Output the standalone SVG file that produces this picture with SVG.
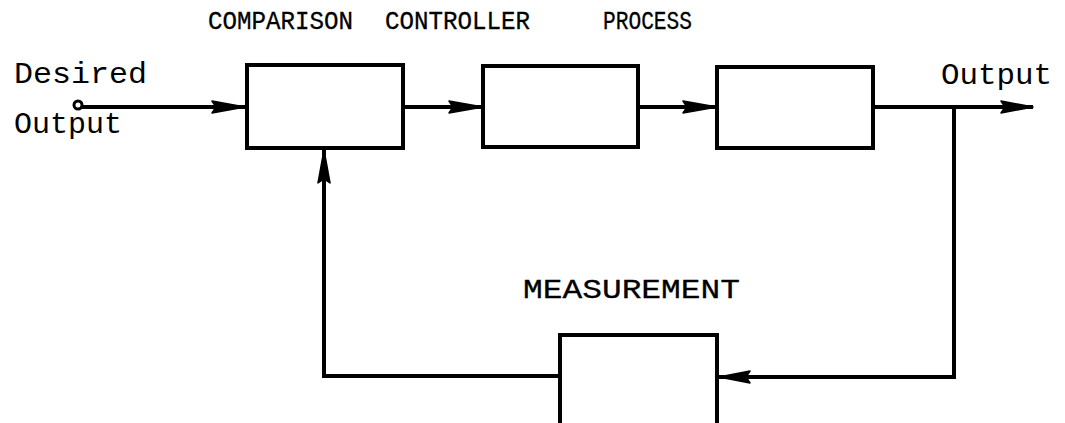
<svg xmlns="http://www.w3.org/2000/svg" width="1065" height="423" viewBox="0 0 1065 423">
<style>
.box{fill:#fff;stroke:#000;stroke-width:4}
.ln{fill:none;stroke:#000;stroke-width:4}
.ah{fill:#000;stroke:#000;stroke-width:1.5;stroke-linejoin:round}
.lab{font-family:"Liberation Mono","Courier New",monospace;fill:#000;stroke:#000;stroke-width:0.3}
.lt{font-family:"Liberation Mono","Courier New",monospace;fill:#000}
</style>
<rect width="1065" height="423" fill="#fff"/>
<g id="connectors">
<line class="ln" x1="78" y1="107" x2="245" y2="107"/>
<polygon class="ah" points="245,107 212,101 216,107 212,113"/>
<line class="ln" x1="403" y1="107" x2="483" y2="107"/>
<polygon class="ah" points="483,107 449,101 453,107 449,113"/>
<line class="ln" x1="638" y1="107" x2="717" y2="107"/>
<polygon class="ah" points="717,107 683,101 687,107 683,113"/>
<line class="ln" x1="873" y1="107" x2="1033" y2="107"/>
<polygon class="ah" points="1033,107 1001,101 1005,107 1001,113"/>
<polyline class="ln" points="954,107 954,377 719,377"/>
<polygon class="ah" points="719,377 750,371 746,377 750,383"/>
<polyline class="ln" points="560,376 324,376 324,150"/>
<polygon class="ah" points="324,150 318,183 324,179 330,183"/>
<circle cx="78" cy="105" r="4" fill="#fff" stroke="#000" stroke-width="3"/>
</g>
<g id="comparison">
<rect class="box" x="247" y="65" width="156" height="83"/>
<text class="lab" x="208" y="29" font-size="25" textLength="145" lengthAdjust="spacingAndGlyphs">COMPARISON</text>
</g>
<g id="controller">
<rect class="box" x="483" y="66" width="155" height="81"/>
<text class="lab" x="385" y="29" font-size="25" textLength="145" lengthAdjust="spacingAndGlyphs">CONTROLLER</text>
</g>
<g id="process">
<rect class="box" x="717" y="67" width="156" height="81"/>
<text class="lab" x="603" y="29" font-size="25" textLength="89" lengthAdjust="spacingAndGlyphs">PROCESS</text>
</g>
<g id="measurement">
<rect class="box" x="560" y="335" width="157" height="100"/>
<text class="lab" x="523" y="298" font-size="28" textLength="217" lengthAdjust="spacingAndGlyphs">MEASUREMENT</text>
</g>
<g id="desired-output">
<text class="lt" x="14" y="83" font-size="29" textLength="133" lengthAdjust="spacingAndGlyphs">Desired</text>
<text class="lt" x="14" y="133" font-size="29" textLength="108" lengthAdjust="spacingAndGlyphs">Output</text>
</g>
<g id="output">
<text class="lt" x="941" y="84" font-size="29" textLength="111" lengthAdjust="spacingAndGlyphs">Output</text>
</g>
</svg>
